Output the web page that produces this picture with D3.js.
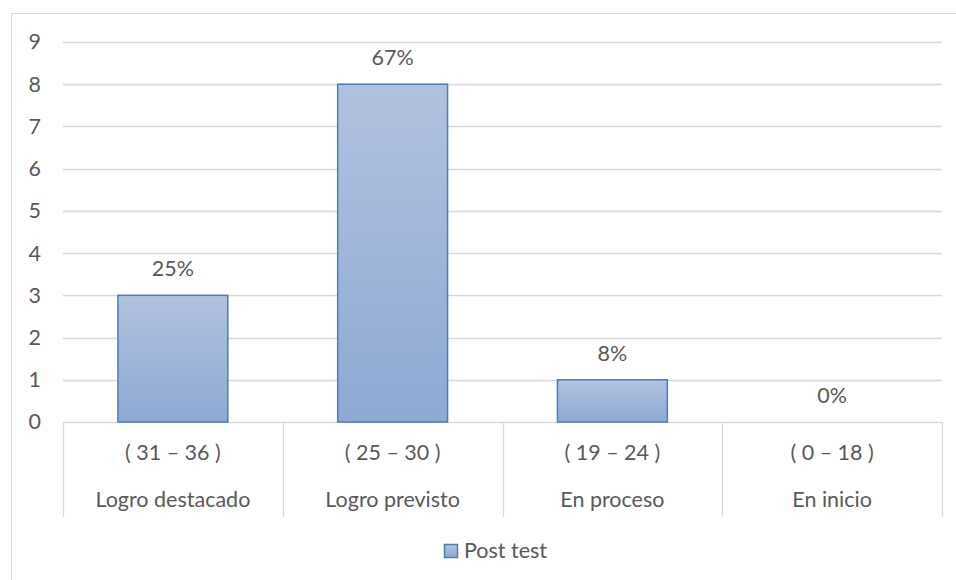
<!DOCTYPE html>
<html>
<head>
<meta charset="utf-8">
<script src="https://cdn.jsdelivr.net/npm/d3@7"></script>
<style>
  body { margin: 0; background: #fff; }
  text { font-family: Lato, "Open Sans", sans-serif; fill: #595959; }
</style>
</head>
<body>
<div class="chart"></div>
<script>
// chart data
var categories = ["Logro destacado", "Logro previsto", "En proceso", "En inicio"];
var ranges = ["( 31 – 36 )", "( 25 – 30 )", "( 19 – 24 )", "( 0 – 18 )"];
var postTest = [3, 8, 1, 0];
var percentLabels = ["25%", "67%", "8%", "0%"];
var yTicks = [0, 1, 2, 3, 4, 5, 6, 7, 8, 9];
var seriesName = "Post test";

var svgWidth = 956;
var svgHeight = 580;
var fontSize = "21.5px";

var margin = { top: 42, right: 14, bottom: 158, left: 63 };
var width = svgWidth - margin.left - margin.right;
var height = svgHeight - margin.top - margin.bottom;

var svg = d3.select(".chart")
    .append("svg")
    .attr("width", svgWidth)
    .attr("height", svgHeight);

// bar gradient
var grad = svg.append("defs").append("linearGradient")
    .attr("id", "barGrad")
    .attr("x1", 0).attr("y1", 0).attr("x2", 0).attr("y2", 1);
grad.append("stop").attr("offset", "0%").attr("stop-color", "#b1c2de");
grad.append("stop").attr("offset", "100%").attr("stop-color", "#8ea9d4");

// outer chart border
svg.append("rect")
    .attr("x", 11.5).attr("y", 13.5)
    .attr("width", 1000).attr("height", 700)
    .attr("fill", "none")
    .attr("stroke", "#d9d9d9");

var chartGroup = svg.append("g")
    .attr("transform", `translate(${margin.left}, ${margin.top})`);

var xScale = d3.scaleBand()
    .domain(categories)
    .range([0, width])
    .paddingInner(0.5)
    .paddingOuter(0.25);

var xOuter = d3.scaleBand()
    .domain(categories)
    .range([0, width]);

var yScale = d3.scaleLinear()
    .domain([0, 9])
    .range([height, 0]);

// gridlines
chartGroup.append("g")
    .selectAll("line")
    .data(yTicks.filter(d => d > 0))
    .enter()
    .append("line")
    .attr("x1", 0).attr("x2", width)
    .attr("y1", d => Math.round(yScale(d)) + 0.5)
    .attr("y2", d => Math.round(yScale(d)) + 0.5)
    .attr("stroke", "#d9d9d9")
    .attr("stroke-width", 1.3);

// y axis labels
var leftAxis = d3.axisLeft(yScale).tickValues(yTicks).tickSize(0).tickPadding(22);
var yAxis = chartGroup.append("g").call(leftAxis);
yAxis.select(".domain").remove();
yAxis.selectAll("text")
    .attr("font-size", fontSize)
    .style("font-family", "Lato, sans-serif")
    .attr("fill", "#595959");

// category axis: baseline and dividers
var axisDepth = 95;
chartGroup.append("line")
    .attr("x1", 0).attr("x2", width)
    .attr("y1", height + 0.5).attr("y2", height + 0.5)
    .attr("stroke", "#d9d9d9").attr("stroke-width", 1.3);

var dividers = categories.map(c => xOuter(c)).concat([width]);
chartGroup.append("g")
    .selectAll("line")
    .data(dividers)
    .enter()
    .append("line")
    .attr("x1", d => Math.round(d) + 0.5).attr("x2", d => Math.round(d) + 0.5)
    .attr("y1", height).attr("y2", height + axisDepth)
    .attr("stroke", "#d9d9d9").attr("stroke-width", 1.3);

// bars
chartGroup.selectAll("rect.bar")
    .data(postTest)
    .enter()
    .append("rect")
    .attr("class", "bar")
    .attr("x", (d, i) => xScale(categories[i]))
    .attr("y", d => yScale(d))
    .attr("width", xScale.bandwidth())
    .attr("height", d => height - yScale(d))
    .attr("fill", "url(#barGrad)")
    .attr("stroke", "#4a7ebb")
    .attr("stroke-width", 1.5)
    .attr("display", d => d > 0 ? null : "none");

// data labels
chartGroup.selectAll("text.pct")
    .data(postTest)
    .enter()
    .append("text")
    .attr("class", "pct")
    .attr("x", (d, i) => xOuter(categories[i]) + xOuter.bandwidth() / 2)
    .attr("y", d => yScale(d) - 19)
    .attr("text-anchor", "middle")
    .attr("font-size", fontSize)
    .text((d, i) => percentLabels[i]);

// range labels
chartGroup.selectAll("text.range")
    .data(ranges)
    .enter()
    .append("text")
    .attr("x", (d, i) => xOuter(categories[i]) + xOuter.bandwidth() / 2)
    .attr("y", height + 38)
    .attr("text-anchor", "middle")
    .attr("font-size", fontSize)
    .text(d => d);

// category labels
chartGroup.selectAll("text.cat")
    .data(categories)
    .enter()
    .append("text")
    .attr("x", d => xOuter(d) + xOuter.bandwidth() / 2)
    .attr("y", height + 85)
    .attr("text-anchor", "middle")
    .attr("font-size", fontSize)
    .text(d => d);

// legend
var legend = svg.append("g").attr("transform", "translate(444, 544)");
legend.append("rect")
    .attr("x", 0.5).attr("y", 0.5)
    .attr("width", 13).attr("height", 13)
    .attr("fill", "url(#barGrad)")
    .attr("stroke", "#4a7ebb")
    .attr("stroke-width", 1.5);
legend.append("text")
    .attr("x", 20).attr("y", 14)
    .attr("font-size", fontSize)
    .text(seriesName);
</script>
</body>
</html>
